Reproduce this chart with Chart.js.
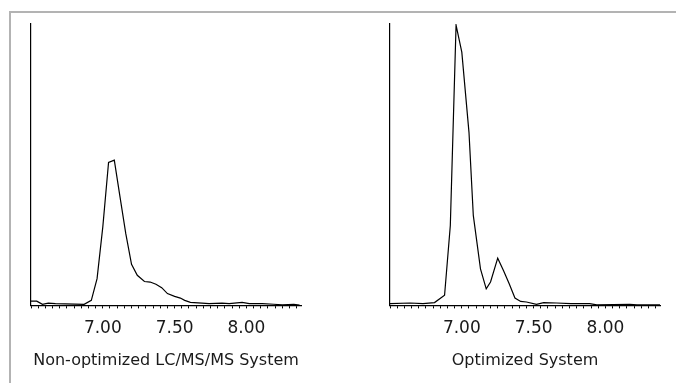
<!DOCTYPE html>
<html>
<head>
<meta charset="utf-8">
<script src="https://cdn.jsdelivr.net/npm/chart.js@4"></script>
<style>
  html, body { margin: 0; padding: 0; background: #fff; }
  body { width: 676px; height: 383px; overflow: hidden; position: relative; }
  #frame { position: absolute; left: 9px; top: 11px; width: 700px; height: 400px;
           border-top: 2px solid #b3b3b3; border-left: 2px solid #b3b3b3; }
  .wrap { position: absolute; top: 0; width: 332px; height: 383px; }
</style>
</head>
<body>
<div id="frame"></div>
<div class="wrap" style="left:0px"><canvas id="c1" width="332" height="383"></canvas></div>
<div class="wrap" style="left:359px"><canvas id="c2" width="332" height="383"></canvas></div>
<script>
// Retention time (min) and relative intensity (%)
const timesNonOpt = [6.50,6.54,6.58,6.62,6.67,6.87,6.92,6.96,7.00,7.04,7.08,7.12,7.16,7.20,7.24,7.29,7.33,7.37,7.41,7.45,7.50,7.54,7.57,7.61,7.69,7.74,7.83,7.88,7.97,8.02,8.11,8.19,8.25,8.33,8.37];
const intensNonOpt = [1.5,1.5,0.4,0.8,0.6,0.4,1.8,9.5,27.9,50.8,51.6,38.5,25.5,14.6,10.7,8.5,8.3,7.5,6.3,4.2,3.2,2.6,1.8,1.1,0.8,0.6,0.8,0.6,1.1,0.6,0.6,0.4,0.2,0.4,0.1];

const timesOpt = [6.50,6.64,6.73,6.81,6.88,6.92,6.96,7.00,7.05,7.08,7.13,7.17,7.20,7.25,7.29,7.33,7.37,7.41,7.45,7.52,7.57,7.66,7.76,7.89,7.94,8.17,8.22,8.38];
const intensOpt = [0.6,0.85,0.6,1.0,3.6,28.4,99.6,90,61.5,32,13,5.9,8.3,16.8,12.4,7.7,2.6,1.4,1.2,0.35,1.0,0.85,0.6,0.6,0.2,0.4,0.2,0.2];

const xMin = 6.50, xMax = 8.38, tickStep = 0.05;
const labelledTicks = ["7.00", "7.50", "8.00"];
const titles = ["Non-optimized LC/MS/MS System", "Optimized System"];

const FONT = "'DejaVu Sans', sans-serif";

function makeChart(id, times, intens, title) {
  const pts = times.map((t, i) => ({ x: t, y: intens[i] }));
  return new Chart(document.getElementById(id), {
    type: 'line',
    data: { datasets: [{ data: pts, borderColor: '#000', borderWidth: 1.2, pointRadius: 0, tension: 0, fill: false }] },
    options: {
      responsive: false, animation: false, devicePixelRatio: 1,
      layout: { padding: { left: 31, right: 31, top: 24, bottom: 6 } },
      plugins: {
        legend: { display: false }, tooltip: { enabled: false },
        title: { display: true, position: 'bottom', text: title, color: '#1a1a1a',
                 font: { family: FONT, size: 16, weight: 'normal' }, padding: { top: 2, bottom: 7 } }
      },
      scales: {
        x: {
          type: 'linear', min: xMin, max: xMax,
          afterBuildTicks: (scale) => {
            const ticks = [];
            for (let k = Math.ceil(xMin / tickStep - 1e-6); k * tickStep <= xMax + 1e-9; k++) ticks.push({ value: +(k * tickStep).toFixed(2) });
            scale.ticks = ticks;
          },
          ticks: {
            autoSkip: false, maxRotation: 0, padding: 10, color: '#1a1a1a',
            font: { family: FONT, size: 17 },
            callback: (v) => labelledTicks.includes(Number(v).toFixed(2)) ? Number(v).toFixed(2) : ''
          },
          grid: { drawOnChartArea: false, drawTicks: true, tickLength: 3, color: '#000', lineWidth: 1 },
          border: { display: true, color: '#000', width: 1.2 }
        },
        y: {
          min: 0, max: 100,
          ticks: { display: false },
          grid: { display: false, drawTicks: false },
          border: { display: true, color: '#000', width: 1.2 }
        }
      }
    }
  });
}
makeChart('c1', timesNonOpt, intensNonOpt, titles[0]);
makeChart('c2', timesOpt, intensOpt, titles[1]);
</script>
</body>
</html>
